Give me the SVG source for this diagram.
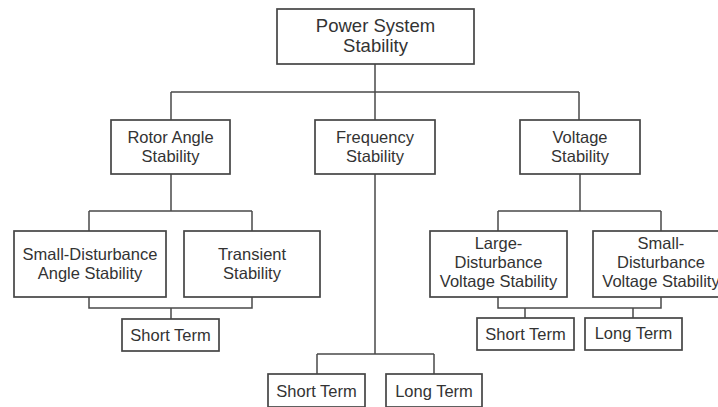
<svg xmlns="http://www.w3.org/2000/svg" width="718" height="407" viewBox="0 0 718 407">
<style>
.box{fill:#fff;stroke:#454545;stroke-width:1.7}
.ln{fill:none;stroke:#4a4a4a;stroke-width:1.5}
text{font-family:"Liberation Sans",Arial,sans-serif;font-size:16.5px;fill:#333;text-anchor:middle}
.big{font-size:18.5px}
</style>
<rect width="718" height="407" fill="#fff"/>
<g id="connectors">
<path class="ln" d="M375,64V92M171,92H579M171,92V120M375,92V120M579,92V120"/>
<path class="ln" d="M171,174V211M89,211H252M89,211V231M252,211V231"/>
<path class="ln" d="M89,297V308H252V297M171,308V319"/>
<path class="ln" d="M375,174V354M317,354H434M317,354V374M434,354V374"/>
<path class="ln" d="M580,174V211M498,211H661M498,211V231M661,211V231"/>
<path class="ln" d="M498,297V308H661V297M525,308V318M633,308V318"/>
</g>
<g id="power">
<rect class="box" x="277" y="9" width="197" height="55"/>
<text class="big" x="375.5" y="31.5">Power System</text>
<text class="big" x="375.5" y="51.5">Stability</text>
</g>
<g id="rotor">
<rect class="box" x="111" y="120" width="119" height="54"/>
<text x="170.5" y="143">Rotor Angle</text>
<text x="170.5" y="162">Stability</text>
</g>
<g id="frequency">
<rect class="box" x="315" y="120" width="120" height="54"/>
<text x="375" y="143">Frequency</text>
<text x="375" y="162">Stability</text>
</g>
<g id="voltage">
<rect class="box" x="520" y="120" width="120" height="54"/>
<text x="580" y="143">Voltage</text>
<text x="580" y="162">Stability</text>
</g>
<g id="small-angle">
<rect class="box" x="14" y="231" width="152" height="66"/>
<text x="90" y="259.5">Small-Disturbance</text>
<text x="90" y="278.5">Angle Stability</text>
</g>
<g id="transient">
<rect class="box" x="184" y="231" width="136" height="66"/>
<text x="252" y="259.5">Transient</text>
<text x="252" y="278.5">Stability</text>
</g>
<g id="rotor-short">
<rect class="box" x="122" y="319" width="97" height="32"/>
<text x="170.5" y="341">Short Term</text>
</g>
<g id="freq-short">
<rect class="box" x="268" y="374" width="97" height="33"/>
<text x="316.5" y="397">Short Term</text>
</g>
<g id="freq-long">
<rect class="box" x="386" y="374" width="96" height="33"/>
<text x="434" y="397">Long Term</text>
</g>
<g id="large-voltage">
<rect class="box" x="430" y="231" width="137" height="66"/>
<text x="498.5" y="249">Large-</text>
<text x="498.5" y="268">Disturbance</text>
<text x="498.5" y="287">Voltage Stability</text>
</g>
<g id="small-voltage">
<rect class="box" x="593" y="231" width="136" height="66"/>
<text x="661" y="249">Small-</text>
<text x="661" y="268">Disturbance</text>
<text x="661" y="287">Voltage Stability</text>
</g>
<g id="volt-short">
<rect class="box" x="477" y="318" width="97" height="32"/>
<text x="525.5" y="340">Short Term</text>
</g>
<g id="volt-long">
<rect class="box" x="585" y="318" width="97" height="32"/>
<text x="633.5" y="339">Long Term</text>
</g>
</svg>
